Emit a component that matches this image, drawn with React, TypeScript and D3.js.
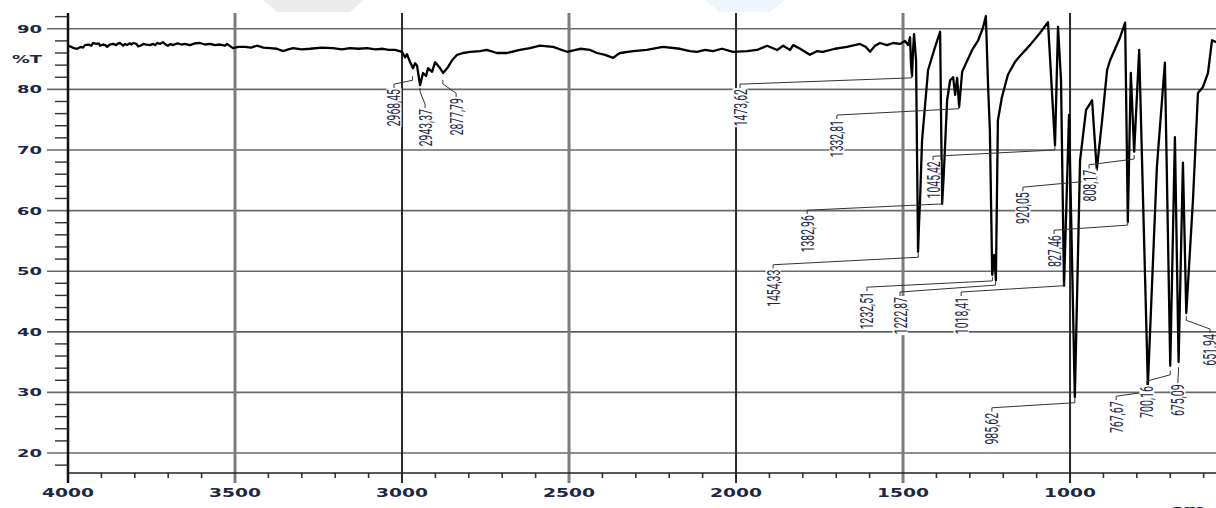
import React from "react";
import * as d3 from "d3";

// IR spectrum, wavenumber (cm-1) vs %T
const baseline: [number, number][] = [
  [4000, 87.2], [3990, 87.0], [3982, 86.8], [3973, 86.7], [3962, 87.0], [3955, 86.9],
  [3949, 87.3], [3938, 87.4], [3930, 87.2], [3925, 87.65], [3915, 87.5], [3908, 87.6],
  [3904, 87.2], [3895, 87.4], [3888, 87.3], [3883, 87.0], [3875, 87.4], [3865, 87.5],
  [3856, 87.3], [3850, 87.6], [3844, 87.65], [3835, 87.2], [3829, 87.5], [3823, 87.3],
  [3815, 87.6], [3810, 87.4], [3805, 87.65], [3795, 87.5], [3790, 87.1], [3784, 87.2],
  [3774, 87.5], [3765, 87.4], [3754, 87.3], [3745, 87.5], [3739, 87.3], [3733, 87.65],
  [3724, 87.5], [3716, 87.8], [3708, 87.4], [3701, 87.2], [3693, 87.5], [3686, 87.3],
  [3672, 87.6], [3660, 87.4], [3650, 87.5], [3635, 87.3], [3620, 87.6], [3605, 87.65],
  [3590, 87.4], [3575, 87.5], [3560, 87.3], [3545, 87.4], [3530, 87.2], [3524, 87.5],
  [3506, 86.8], [3490, 87.0], [3470, 87.0], [3452, 86.9], [3434, 87.2], [3415, 86.9],
  [3395, 86.8], [3375, 86.7], [3356, 86.3], [3340, 86.6], [3326, 86.8], [3300, 86.6],
  [3276, 86.7], [3240, 86.9], [3207, 86.8], [3180, 86.6], [3156, 86.8], [3130, 86.7],
  [3105, 86.8], [3080, 86.6], [3057, 86.7], [3040, 86.5], [3021, 86.5], [3000, 86.2],
];

const chStretch: [number, number][] = [
  [2991, 85.3], [2985, 85.8], [2976, 84.5], [2967, 83.5], [2961, 84.3], [2955, 83.9],
  [2946, 80.7], [2937, 82.7], [2928, 82.2], [2922, 83.5], [2910, 82.9], [2901, 84.5],
  [2892, 83.9], [2886, 83.5], [2877, 82.7], [2862, 83.7], [2850, 84.8], [2835, 85.7],
  [2817, 86.0], [2796, 86.2], [2766, 86.3], [2746, 86.5], [2716, 86.0], [2686, 86.0],
  [2647, 86.5], [2617, 86.8], [2587, 87.2], [2548, 87.0], [2506, 86.2], [2467, 86.7],
  [2437, 86.5], [2416, 86.0], [2392, 85.7], [2368, 85.2], [2356, 85.7], [2347, 86.0],
  [2308, 86.3], [2267, 86.5], [2219, 87.0], [2168, 86.7], [2138, 86.3], [2117, 86.2],
  [2093, 86.5], [2069, 86.3], [2042, 86.7], [2009, 86.2], [1967, 86.3], [1937, 86.5],
  [1907, 87.2], [1877, 86.5], [1859, 87.2], [1838, 86.5], [1829, 87.3], [1808, 86.7],
  [1779, 85.7], [1758, 86.3], [1740, 86.2], [1704, 86.7], [1668, 87.0], [1629, 87.5],
  [1611, 87.0], [1599, 86.2], [1584, 87.2], [1569, 87.65], [1548, 87.3], [1530, 87.65],
  [1509, 87.5], [1494, 88.0],
];

const fingerprint: [number, number][] = [
  [1485, 87.3], [1479, 88.6], [1476, 84.0], [1473, 82.2], [1470, 86.5], [1467, 89.1],
  [1461, 84.8], [1455, 53.2], [1452, 58.0], [1449, 61.7], [1443, 71.6], [1425, 83.2],
  [1404, 87.0], [1389, 89.5], [1386, 75.0], [1383, 61.1], [1378, 66.0], [1368, 78.2],
  [1359, 81.5], [1350, 82.0], [1344, 79.1], [1338, 81.9], [1332, 77.1], [1323, 82.9],
  [1314, 84.0], [1293, 86.5], [1275, 88.1], [1261, 90.1], [1252, 92.1], [1245, 80.0],
  [1240, 73.3], [1233, 49.4], [1227, 52.7], [1222, 48.5], [1216, 74.9], [1204, 78.7],
  [1186, 82.4], [1165, 84.5], [1150, 85.5], [1120, 87.3], [1090, 89.3], [1066, 91.1],
  [1045, 70.8], [1036, 90.3], [1027, 81.5], [1018, 47.6], [1003, 75.8], [985.6, 29.2],
  [970, 68.3], [952, 76.6], [934, 78.2], [920, 66.7], [904, 74.9], [889, 83.2],
  [880, 84.8], [850, 88.6], [835, 91.0], [827, 58.1], [818, 82.7], [808, 69.7],
  [793, 86.5], [767, 31.2], [740, 67.2], [716, 84.4], [700, 34.4], [686, 72.1],
  [675, 35.0], [662, 67.9], [652, 43.1], [632, 61.7], [617, 79.4], [602, 80.4],
  [587, 82.7], [575, 88.1], [563, 87.8],
];

// peak labels: text, peak wavenumber, %T where leader meets the peak, label centre wn, label top %T
const peakLabels: [string, number, number, number, number][] = [
  ["2968,45", 2968.45, 81.5, 3024, 80.2],
  ["2943,37", 2946, 79.6, 2931, 76.9],
  ["2877,79", 2877.79, 80.9, 2838, 78.7],
  ["1473,62", 1473.62, 81.9, 1988, 80.2],
  ["1332,81", 1332.81, 76.8, 1698, 75.1],
  ["1045,42", 1045.42, 70.0, 1410, 68.3],
  ["1382,96", 1382.96, 61.1, 1787, 59.4],
  ["1454,33", 1454.33, 52.3, 1889, 50.4],
  ["1232,51", 1232.51, 48.4, 1608, 46.7],
  ["1222,87", 1222.87, 47.7, 1509, 45.9],
  ["1018,41", 1018.41, 47.6, 1326, 45.9],
  ["920,05", 920.05, 65.0, 1141, 63.2],
  ["827,46", 827.46, 57.6, 1048, 56.1],
  ["808,17", 808.17, 68.5, 943, 66.9],
  ["985,62", 985.62, 28.3, 1234, 26.8],
  ["767,67", 767.67, 30.1, 862, 28.7],
  ["700,16", 700.16, 32.9, 770, 31.2],
  ["675,09", 675.09, 33.5, 677, 31.5],
  ["651,94", 651.94, 41.9, 581, 39.8],
];

const xMajor = [4000, 3500, 3000, 2500, 2000, 1500, 1000];
const xMinor = [3900, 3800, 3700, 3600, 3400, 3300, 3200, 3100, 2900, 2800, 2700, 2600,
  2400, 2300, 2200, 2100, 1900, 1800, 1700, 1600, 1400, 1300, 1200, 1100, 900, 800, 700, 600];
const yMajor = [20, 30, 40, 50, 60, 70, 80, 90];
const yMinor = [18, 22, 24, 26, 28, 32, 34, 36, 38, 42, 44, 46, 48, 52, 54, 56, 58,
  62, 64, 66, 68, 72, 74, 76, 78, 82, 84, 86, 88, 92];

const W = 1216;
const H = 508;
const navy = "#1b2747";

export default function App() {
  const x = d3.scaleLinear().domain([4000, 563]).range([68, 1216]);
  const y = d3.scaleLinear().domain([16.7, 92.6]).range([473, 13]);
  const line = d3.line<[number, number]>().x(d => x(d[0])).y(d => y(d[1]));
  const spectrum = [...baseline, ...chStretch, ...fingerprint];
  const axisFont = "'DejaVu Sans', Verdana, sans-serif";

  return (
    <svg width={W} height={H} style={{ position: "absolute", left: 0, top: 0, background: "#fff" }}>
      {/* faint watermark bits at the top */}
      <polygon points="263,0 363,0 350,12 277,12" fill="#ececec" />
      <polygon points="705,0 785,0 770,12 720,12" fill="#eef5fb" />

      {/* horizontal grid */}
      {yMajor.map(v => (
        <line key={"hy" + v} x1={47} x2={W} y1={y(v)} y2={y(v)}
          stroke={v === 20 || v === 40 ? "#222" : "#6a6a6a"} strokeWidth={v === 20 || v === 40 ? 1.2 : 1.6} />
      ))}
      {yMinor.map(v => (
        <line key={"my" + v} x1={55} x2={68} y1={y(v)} y2={y(v)} stroke="#333" strokeWidth={1.4} />
      ))}

      {/* vertical grid */}
      {xMajor.slice(1).map((v, i) => (
        <line key={"vx" + v} x1={x(v)} x2={x(v)} y1={13} y2={483}
          stroke={i % 2 === 0 ? "#7c7c7c" : "#2a2a2a"} strokeWidth={i % 2 === 0 ? 3 : 2} />
      ))}
      {xMinor.map(v => (
        <line key={"mx" + v} x1={x(v)} x2={x(v)} y1={473} y2={478} stroke="#333" strokeWidth={1.6} />
      ))}

      {/* axes */}
      <line x1={68} x2={W} y1={473} y2={473} stroke="#222" strokeWidth={1.5} />
      <line x1={68} x2={68} y1={13} y2={483} stroke="#111" strokeWidth={2.5} />

      {/* spectrum */}
      <path d={line(spectrum) || ""} fill="none" stroke="#000" strokeWidth={2.3} strokeLinejoin="round" />

      {/* leaders */}
      {peakLabels.map(([t, pw, pt, lw, lt]) => {
        const lx = x(lw), ly = y(lt), px = x(pw), py = y(pt);
        return (
          <polyline key={"ld" + t} points={`${lx},${ly} ${lx},${ly - 4} ${px},${py} ${px},${py - 4}`}
            fill="none" stroke="#333" strokeWidth={1} />
        );
      })}

      {/* peak labels */}
      {peakLabels.map(([t, , , lw, lt]) => {
        const lx = x(lw), ly = y(lt);
        const len = t.length * 5.3;
        const cy = ly + len / 2 + 1;
        return (
          <g key={"lb" + t}>
            <rect x={lx - 7.5} y={ly} width={15} height={len + 2} fill="#fff" />
            <text x={lx} y={cy} transform={`rotate(-90 ${lx} ${cy})`} textAnchor="middle"
              dominantBaseline="central" fontFamily="Roboto, 'Noto Sans', sans-serif" fontSize={18}
              fill={navy} textLength={len} lengthAdjust="spacingAndGlyphs">{t}</text>
          </g>
        );
      })}

      {/* y tick labels */}
      {yMajor.map(v => (
        <text key={"ty" + v} x={42} y={y(v) + 4} textAnchor="end" fontFamily={axisFont} fontWeight="bold"
          fontSize={11} fill={navy} textLength={25} lengthAdjust="spacingAndGlyphs">{v}</text>
      ))}
      <text x={42} y={63} textAnchor="end" fontFamily={axisFont} fontWeight="bold" fontSize={11}
        fill={navy} textLength={30} lengthAdjust="spacingAndGlyphs">%T</text>

      {/* x tick labels */}
      {xMajor.map(v => (
        <text key={"tx" + v} x={x(v)} y={497} textAnchor="middle" fontFamily={axisFont} fontWeight="bold"
          fontSize={11.5} fill={navy} textLength={52} lengthAdjust="spacingAndGlyphs">{v}</text>
      ))}
      <text x={1170} y={514} fontFamily={axisFont} fontWeight="bold" fontSize={12} fill={navy}
        textLength={60} lengthAdjust="spacingAndGlyphs">cm-1</text>
    </svg>
  );
}
